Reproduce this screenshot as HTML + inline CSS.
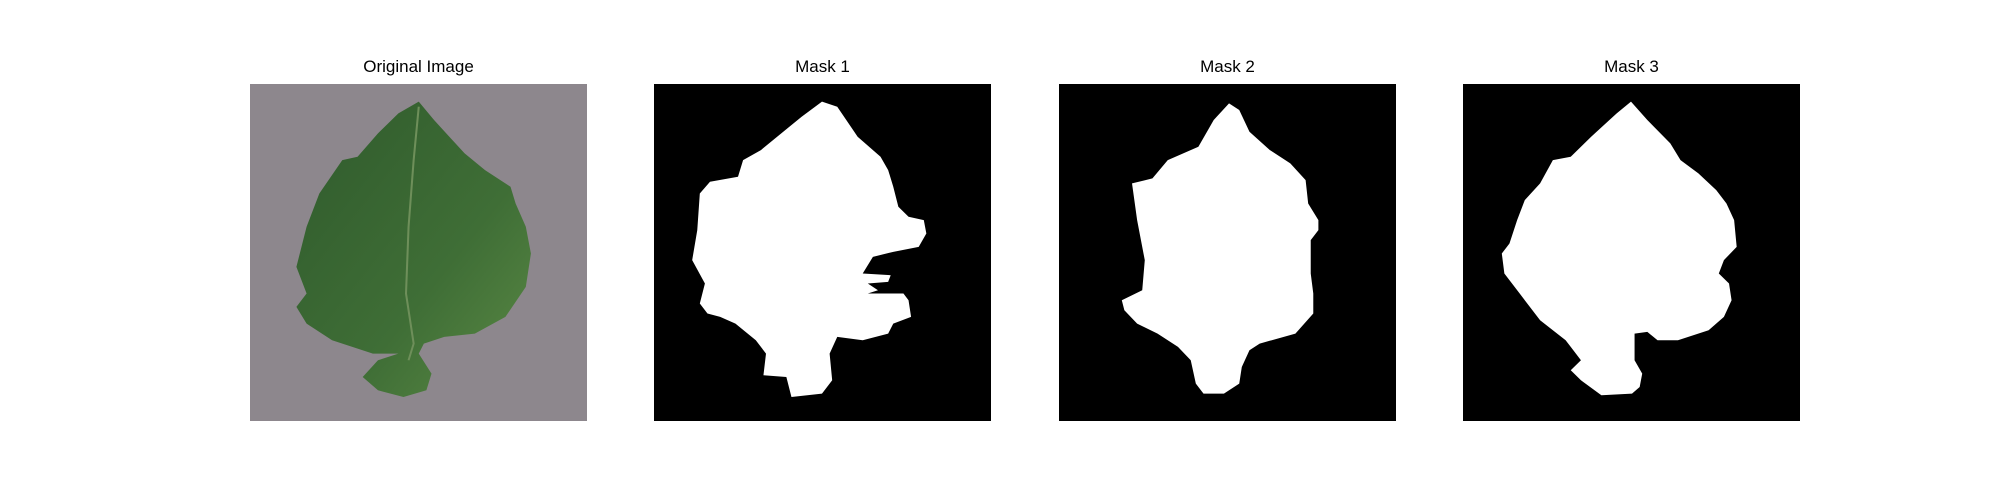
<!DOCTYPE html>
<html><head><meta charset="utf-8"><style>
body{margin:0;background:#fff;width:2000px;height:500px;position:relative;overflow:hidden;font-family:"Liberation Sans","DejaVu Sans",sans-serif}
.t{position:absolute;top:57px;width:337px;text-align:center;font-size:17px;color:#000}
svg{position:absolute;top:84px;width:337px;height:337px}
</style></head><body>
<div class="t" style="left:250px">Original Image</div>
<div class="t" style="left:654px">Mask 1</div>
<div class="t" style="left:1059px">Mask 2</div>
<div class="t" style="left:1463px">Mask 3</div>

<svg style="left:250px" viewBox="39 72 661 1010" preserveAspectRatio="none">
<defs><linearGradient id="g" x1="0" y1="0" x2="1" y2="1"><stop offset="0" stop-color="#2f5a2c"/><stop offset="0.6" stop-color="#3f6e36"/><stop offset="1" stop-color="#5b8a45"/></linearGradient></defs>
<rect x="39" y="72" width="661" height="1010" fill="#8d878d"/>
<polygon fill="url(#g)" points="370,125 400,180 430,230 460,280 500,330 550,380 560,430 580,500 590,580 580,680 540,770 480,820 420,830 380,850 370,880 395,940 385,990 340,1010 290,990 260,950 290,900 330,880 280,880 200,840 150,790 130,740 150,700 130,620 150,500 175,400 220,300 250,290 290,220 330,160"/>
<polyline fill="none" stroke="#6e8f5a" stroke-width="4" points="370,140 360,300 350,500 345,700 360,850 350,900"/>
</svg>

<svg style="left:654px" viewBox="830 72 662 1010" preserveAspectRatio="none">
<rect x="830" y="72" width="662" height="1010" fill="#000"/>
<polygon fill="#fff" points="1160,125 1190,140 1230,230 1275,290 1290,330 1300,380 1310,440 1330,470 1360,480 1365,520 1350,560 1300,575 1260,590 1240,640 1295,645 1290,665 1250,670 1270,690 1250,700 1320,700 1330,720 1335,770 1300,790 1290,820 1240,840 1190,830 1175,880 1180,960 1160,1000 1100,1010 1090,950 1045,945 1050,880 1030,840 990,790 960,770 935,760 920,730 930,670 905,600 915,510 920,400 940,365 995,350 1005,300 1040,270 1080,220 1120,170"/>
</svg>

<svg style="left:1059px" viewBox="57 72 660 1010" preserveAspectRatio="none">
<rect x="57" y="72" width="660" height="1010" fill="#000"/>
<polygon fill="#fff" points="390,130 410,150 430,215 470,270 510,310 540,360 545,430 565,480 565,510 550,540 550,640 555,700 555,760 520,820 450,850 430,870 415,920 410,970 380,1000 340,1000 325,970 315,900 290,860 250,820 210,790 185,750 180,720 220,690 225,600 210,480 200,370 240,355 270,300 330,260 360,180"/>
</svg>

<svg style="left:1463px" viewBox="849 72 660 1010" preserveAspectRatio="none">
<rect x="849" y="72" width="660" height="1010" fill="#000"/>
<polygon fill="#fff" points="1178,125 1210,180 1255,250 1275,300 1310,340 1345,390 1365,430 1380,480 1385,560 1360,600 1350,640 1370,670 1375,720 1360,770 1330,810 1270,840 1230,840 1210,815 1185,820 1185,900 1200,940 1195,980 1180,1000 1120,1005 1080,960 1060,930 1080,900 1060,860 1050,840 1000,780 960,700 930,640 925,580 940,550 955,480 970,420 1000,370 1025,300 1060,290 1100,230 1150,160"/>
</svg>
</body></html>
